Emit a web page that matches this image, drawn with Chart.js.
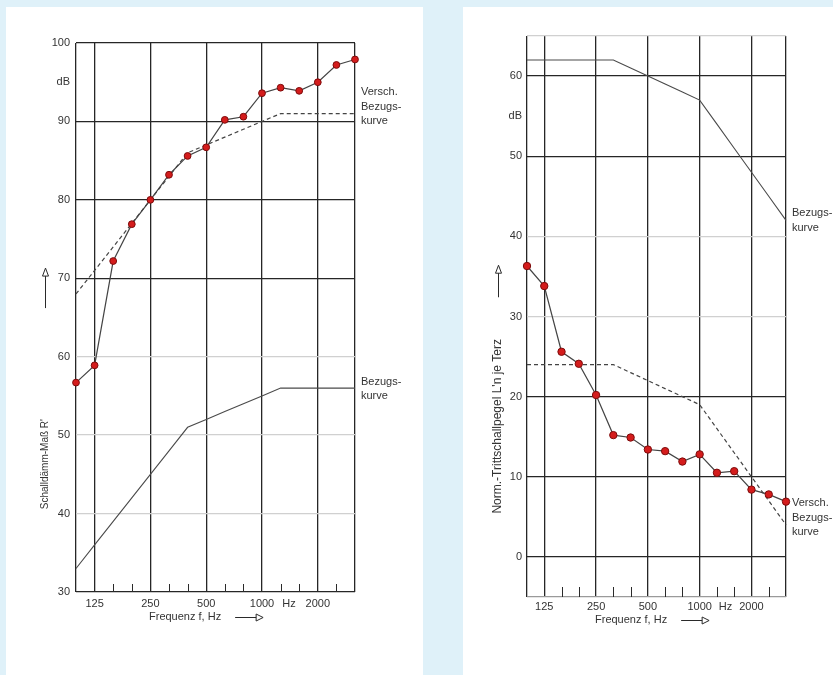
<!DOCTYPE html>
<html>
<head>
<meta charset="utf-8">
<script src="https://cdn.jsdelivr.net/npm/chart.js@4.4.1/dist/chart.umd.min.js"></script>
<style>
  html, body { margin: 0; padding: 0; background: #dff1f9; }
  body { width: 833px; height: 675px; position: relative; overflow: hidden; }
  .panel { position: absolute; background: #fff; }
  #p1 { left: 6px; top: 7px; width: 417px; height: 668px; }
  #p2 { left: 463px; top: 7px; width: 370px; height: 668px; }
  canvas { display: block; }
</style>
</head>
<body>
<div class="panel" id="p1"><canvas id="airborne-chart" width="417" height="668"></canvas></div>
<div class="panel" id="p2"><canvas id="impact-chart" width="370" height="668"></canvas></div>
<script>
// third-octave band centre frequencies
const freqs = ['100','125','160','200','250','315','400','500','630','800','1000','1250','1600','2000','2500','3150'];
const freqLabelsShown = ['125','250','500','1000','2000'];

// left: airborne sound insulation R'
const airMeasured  = [56.7,58.9,72.2,76.9,80.0,83.2,85.6,86.7,90.2,90.6,93.6,94.3,93.9,95.0,97.2,97.9];
const airShifted   = [68,71,74,77,80,83,86,87,88,89,90,91,91,91,91,91];
const airReference = [33,36,39,42,45,48,51,52,53,54,55,56,56,56,56,56];
const airYLabels   = [30,40,50,60,70,80,90,100];

// right: normalized impact sound level L'n
const impactMeasured  = [36.3,33.8,25.6,24.1,20.2,15.2,14.9,13.4,13.2,11.9,12.8,10.5,10.7,8.4,7.8,6.9];
const impactShifted   = [24,24,24,24,24,24,23,22,21,20,19,16,13,10,7,4];
const impactReference = [62,62,62,62,62,62,61,60,59,58,57,54,51,48,45,42];
const impactYLabels   = [0,10,20,30,40,50,60];

const FONT = '"Liberation Sans", Arial, sans-serif';
const TXT = '#333';

// extra drawing: small inner ticks, "Hz", curve notes, axis titles with arrows
const decorPlugin = {
    id: 'decor',
    afterDraw(chart, args, o) {
        const ctx = chart.ctx, a = chart.chartArea, xs = chart.scales.x, ys = chart.scales.y;
        ctx.save();
        ctx.strokeStyle = '#2a2a2a';
        ctx.lineWidth = 1;
        o.minorTicks.forEach(i => {
            const x = Math.round(xs.getPixelForValue(i)) + 0.5;
            ctx.beginPath(); ctx.moveTo(x, a.bottom); ctx.lineTo(x, a.bottom - o.tickLen); ctx.stroke();
        });

        ctx.fillStyle = TXT;
        ctx.font = '11px ' + FONT;
        ctx.textBaseline = 'middle';
        ctx.textAlign = 'center';
        ctx.fillText('Hz', xs.getPixelForValue(o.hzAt), a.bottom + o.tickDy);

        ctx.textAlign = 'left';
        o.notes.forEach(n => n.lines.forEach((t, k) => {
            ctx.fillText(t, a.right + 6, ys.getPixelForValue(n.value) + k * 14.5);
        }));

        // x title + arrow
        const tx = a.left + o.xTitleX, ty = a.bottom + o.xTitleDy;
        ctx.fillText('Frequenz f, Hz', tx, ty);
        const x0 = tx + ctx.measureText('Frequenz f, Hz').width + 14, x1 = x0 + 21, yy = Math.round(ty) + 0.5;
        ctx.beginPath(); ctx.moveTo(x0, yy); ctx.lineTo(x1, yy); ctx.stroke();
        ctx.beginPath(); ctx.moveTo(x1, yy - 3.5); ctx.lineTo(x1 + 7, yy); ctx.lineTo(x1, yy + 3.5); ctx.closePath(); ctx.stroke();

        // y title (rotated)
        ctx.save();
        ctx.font = o.yTitleSize + 'px ' + FONT;
        ctx.translate(a.left - o.yTitleDx, ys.getPixelForValue(o.yTitleValue));
        ctx.rotate(-Math.PI / 2);
        ctx.textAlign = 'center';
        ctx.fillText(o.yTitle, 0, 0);
        ctx.restore();

        // up arrow
        const ax = Math.round(a.left - o.yTitleDx) + 0.5;
        const tip = ys.getPixelForValue(o.arrowTop), bot = ys.getPixelForValue(o.arrowBottom);
        ctx.beginPath(); ctx.moveTo(ax, bot); ctx.lineTo(ax, tip + 8); ctx.stroke();
        ctx.beginPath(); ctx.moveTo(ax - 3, tip + 8); ctx.lineTo(ax, tip); ctx.lineTo(ax + 3, tip + 8); ctx.closePath(); ctx.stroke();
        ctx.restore();
    }
};

const majorX = [0, 1, 4, 7, 10, 13, 15];

function xAxis(height, padding) {
    return {
        type: 'category',
        offset: false,
        border: { display: false },
        grid: {
            drawTicks: false,
            lineWidth: 1.3,
            color: ctx => majorX.includes(ctx.index) ? '#262626' : 'rgba(0,0,0,0)'
        },
        ticks: {
            autoSkip: false, maxRotation: 0, padding: padding,
            color: TXT, font: { family: FONT, size: 11 },
            callback: function (v) {
                const l = this.getLabelForValue(v);
                return freqLabelsShown.includes(l) ? l : '';
            }
        },
        afterFit: s => { s.height = height; }
    };
}

function datasets(measured, shifted, reference, r) {
    return [{
        label: 'Messwerte',
        data: measured,
        borderColor: '#444', borderWidth: 1.2,
        pointRadius: r, pointBackgroundColor: '#d41c1c',
        pointBorderColor: '#7d0b0b', pointBorderWidth: 1,
        clip: false
    }, {
        label: 'Versch. Bezugskurve',
        data: shifted,
        borderColor: '#444', borderWidth: 1.2, borderDash: [4, 3],
        pointRadius: 0, clip: false
    }, {
        label: 'Bezugskurve',
        data: reference,
        borderColor: '#4a4a4a', borderWidth: 1.1,
        pointRadius: 0, clip: false
    }];
}

let airborneChart = new Chart(document.getElementById('airborne-chart').getContext('2d'), {
    type: 'line',
    data: { labels: freqs, datasets: datasets(airMeasured, airShifted, airReference, 3.4) },
    options: {
        responsive: false, animation: false,
        layout: { padding: { left: 0, top: 36, right: 68, bottom: 0 } },
        plugins: {
            legend: { display: false }, tooltip: { enabled: false },
            decor: {
                minorTicks: [2, 3, 5, 6, 8, 9, 11, 12, 14], tickLen: 8,
                hzAt: 11.45, tickDy: 11.5,
                notes: [
                    { value: 93.75, lines: ['Versch.', 'Bezugs-', 'kurve'] },
                    { value: 56.8, lines: ['Bezugs-', 'kurve'] }
                ],
                xTitleX: 73, xTitleDy: 25,
                yTitle: "Schalldämm-Maß R'", yTitleSize: 10, yTitleDx: 31, yTitleValue: 46.3,
                arrowTop: 71.3, arrowBottom: 66.2
            }
        },
        scales: {
            x: xAxis(83, 5),
            y: {
                min: 30, max: 100,
                border: { display: false },
                grid: {
                    drawTicks: false, lineWidth: 1.3,
                    color: ctx => {
                        const v = ctx.tick.value;
                        if ([30, 70, 80, 90, 100].includes(v)) return '#262626';
                        if ([40, 50, 60].includes(v)) return '#d0d0d0';
                        return 'rgba(0,0,0,0)';
                    }
                },
                ticks: {
                    stepSize: 5, padding: 6, color: TXT, font: { family: FONT, size: 11 },
                    callback: v => v === 95 ? 'dB' : (airYLabels.includes(v) ? v : '')
                },
                afterFit: s => { s.width = 70; }
            }
        }
    },
    plugins: [decorPlugin]
});

let impactChart = new Chart(document.getElementById('impact-chart').getContext('2d'), {
    type: 'line',
    data: { labels: freqs, datasets: datasets(impactMeasured, impactShifted, impactReference, 3.7) },
    options: {
        responsive: false, animation: false,
        layout: { padding: { left: 0, top: 29, right: 47, bottom: 0 } },
        plugins: {
            legend: { display: false }, tooltip: { enabled: false },
            decor: {
                minorTicks: [2, 3, 5, 6, 8, 9, 11, 12, 14], tickLen: 10,
                hzAt: 11.5, tickDy: 10,
                notes: [
                    { value: 42.9, lines: ['Bezugs-', 'kurve'] },
                    { value: 6.7, lines: ['Versch.', 'Bezugs-', 'kurve'] }
                ],
                xTitleX: 68, xTitleDy: 23,
                yTitle: "Norm.-Trittschallpegel L'n je Terz", yTitleSize: 12, yTitleDx: 29, yTitleValue: 16.3,
                arrowTop: 36.4, arrowBottom: 32.4
            }
        },
        scales: {
            x: xAxis(78, 3.5),
            y: {
                min: -5, max: 65,
                border: { display: false },
                grid: {
                    drawTicks: false, lineWidth: 1.3,
                    color: ctx => {
                        const v = ctx.tick.value;
                        if ([0, 10, 20, 50, 60].includes(v)) return '#262626';
                        if ([30, 40, 65].includes(v)) return '#d0d0d0';
                        if (v === -5) return '#9a9a9a';
                        return 'rgba(0,0,0,0)';
                    }
                },
                ticks: {
                    stepSize: 5, padding: 5, color: TXT, font: { family: FONT, size: 11 },
                    callback: v => v === 55 ? 'dB' : (impactYLabels.includes(v) ? v : '')
                },
                afterFit: s => { s.width = 64; }
            }
        }
    },
    plugins: [decorPlugin]
});
</script>
</body>
</html>
